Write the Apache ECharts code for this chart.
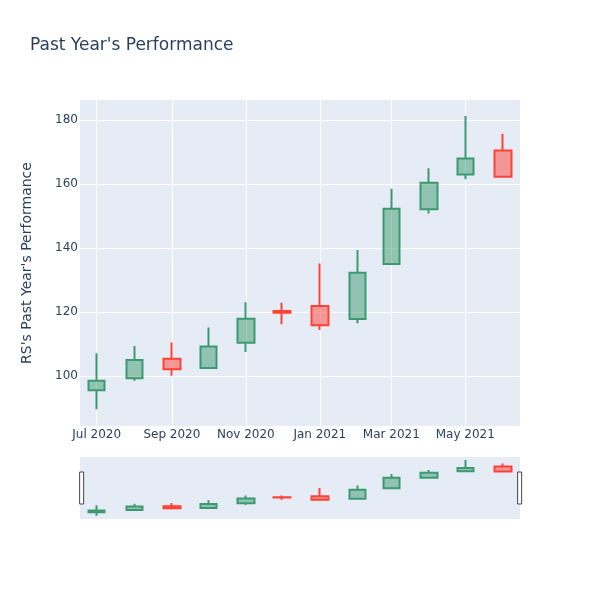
<!DOCTYPE html>
<html><head><meta charset="utf-8">
<script src="https://cdn.jsdelivr.net/npm/echarts@6/dist/echarts.min.js"></script>
<style>html,body{margin:0;padding:0;background:#fff}#c{width:600px;height:600px}</style>
</head><body><div id="c"></div>
<script>
const dates = ['2020-07-01','2020-08-01','2020-09-01','2020-10-01','2020-11-01','2020-12-01','2021-01-01','2021-02-01','2021-03-01','2021-04-01','2021-05-01','2021-06-01'];
const opens  = [95.6, 99.3, 105.4, 102.5, 110.4, 120.3, 121.9, 117.8, 135.0, 152.1, 163.0, 170.5];
const closes = [98.5, 105.0, 102.1, 109.2, 117.9, 119.8, 115.9, 132.3, 152.3, 160.4, 168.0, 162.3];
const lows   = [89.6, 98.5, 100.1, 102.5, 107.5, 116.2, 114.4, 116.5, 134.8, 150.8, 161.5, 162.3];
const highs  = [107.1, 109.4, 110.5, 115.2, 123.1, 122.9, 135.2, 139.4, 158.5, 164.9, 181.25, 175.7];
const xTickDates = ['2020-07-01','2020-09-01','2020-11-01','2021-01-01','2021-03-01','2021-05-01'];
const yTicks = [100, 120, 140, 160, 180];
const monthNames = ['Jan','Feb','Mar','Apr','May','Jun','Jul','Aug','Sep','Oct','Nov','Dec'];

const toMs = s => new Date(s + 'T00:00:00Z').getTime();
const ohlc = dates.map((d, i) => [toMs(d), opens[i], closes[i], lows[i], highs[i]]);
const xMin = new Date('2020-06-17T05:00:00Z').getTime();
const xMax = new Date('2021-06-15T03:00:00Z').getTime();
const yMin = 84.4, yMax = 186.25;
const xTickVals = xTickDates.map(toMs);

const upLine = '#3D9970', downLine = '#FF4136';
const candleStyle = {
  color: 'rgba(61,153,112,0.5)', color0: 'rgba(255,65,54,0.5)',
  borderColor: upLine, borderColor0: downLine, borderWidth: 2
};
const font = '"DejaVu Sans", Verdana, sans-serif';

const chart = echarts.init(document.getElementById('c'), null, {renderer: 'canvas'});
chart.setOption({
  animation: false,
  backgroundColor: '#fff',
  title: {
    text: "Past Year's Performance", left: 30, top: 37, padding: 0,
    textStyle: {color: '#2a3f5f', fontSize: 17, fontWeight: 'normal', fontFamily: font}
  },
  grid: [
    {left: 80, right: 80, top: 100, height: 326, show: true, backgroundColor: '#e5ecf6', borderWidth: 0},
    {left: 80, right: 80, top: 457, height: 62, show: true, backgroundColor: '#e5ecf6', borderWidth: 0}
  ],
  xAxis: [
    {
      type: 'value', gridIndex: 0, min: xMin, max: xMax,
      axisLine: {show: false},
      axisTick: {show: false, customValues: xTickVals},
      axisLabel: {
        customValues: xTickVals, color: '#2a3f5f', fontSize: 12, fontFamily: font, margin: 3,
        hideOverlap: false, showMinLabel: true, showMaxLabel: true,
        formatter: v => { const d = new Date(v); return monthNames[d.getUTCMonth()] + ' ' + d.getUTCFullYear(); }
      },
      splitLine: {show: true, lineStyle: {color: '#fff', width: 1}}
    },
    {
      type: 'value', gridIndex: 1, min: xMin, max: xMax,
      axisLine: {show: false}, axisTick: {show: false}, axisLabel: {show: false}, splitLine: {show: false}
    }
  ],
  yAxis: [
    {
      type: 'value', gridIndex: 0, min: yMin, max: yMax,
      name: "RS's Past Year's Performance", nameLocation: 'middle', nameGap: 46,
      nameTextStyle: {color: '#2a3f5f', fontSize: 14, fontFamily: font},
      axisLine: {show: false},
      axisTick: {show: false, customValues: yTicks},
      axisLabel: {customValues: yTicks, color: '#2a3f5f', fontSize: 12, fontFamily: font, margin: 2},
      splitLine: {show: true, lineStyle: {color: '#fff', width: 1}}
    },
    {
      type: 'value', gridIndex: 1, min: yMin, max: yMax,
      axisLine: {show: false}, axisTick: {show: false}, axisLabel: {show: false}, splitLine: {show: false}
    }
  ],
  dataZoom: [{
    type: 'slider', xAxisIndex: 1, filterMode: 'none', start: 0, end: 100,
    left: 80, right: 80, top: 457, height: 62,
    showDetail: false, showDataShadow: false, brushSelect: false, moveHandleSize: 0,
    backgroundColor: 'rgba(0,0,0,0)', fillerColor: 'rgba(0,0,0,0)', borderColor: 'rgba(0,0,0,0)',
    handleIcon: 'path://M0,0 L4,0 L4,32 L0,32 Z', handleSize: 32,
    handleStyle: {color: '#fff', borderColor: '#444', borderWidth: 1},
    dataBackground: {lineStyle: {opacity: 0}, areaStyle: {opacity: 0}},
    zoomLock: true
  }],
  series: [
    {type: 'candlestick', xAxisIndex: 0, yAxisIndex: 0, data: ohlc, barWidth: 17,
     encode: {x: 0, y: [1, 2, 3, 4]}, itemStyle: candleStyle},
    {type: 'candlestick', xAxisIndex: 1, yAxisIndex: 1, data: ohlc, barWidth: 17,
     encode: {x: 0, y: [1, 2, 3, 4]}, itemStyle: candleStyle}
  ]
});
</script></body></html>
